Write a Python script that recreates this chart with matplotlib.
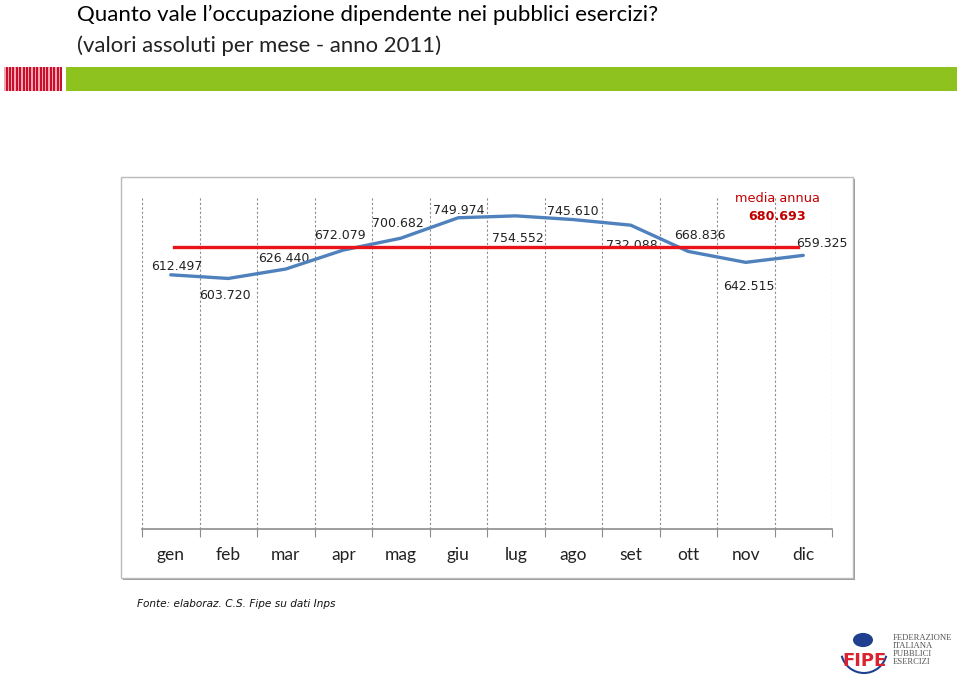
import numpy as np
import matplotlib
matplotlib.use('Agg')
import matplotlib.pyplot as plt
from matplotlib.patches import Rectangle, Circle, Arc

# dati (occupati dipendenti per mese, 2011)
mesi = ['gen', 'feb', 'mar', 'apr', 'mag', 'giu', 'lug', 'ago', 'set', 'ott', 'nov', 'dic']
occupati = [612497, 603720, 626440, 672079, 700682, 749974,
            754552, 745610, 732088, 668836, 642515, 659325]

# spostamento etichette rispetto al punto (pixel)
offs_etichette = [(6, 8), (-3, -17), (-2, 11), (-3, 15), (-3, 15), (0, 7),
                  (2, -23), (0, 8), (1, -20), (12, 16), (3, -24), (19, 12)]

media = np.mean(occupati)


def fmt(v):
    return '{:,}'.format(int(round(v))).replace(',', '.')


fig = plt.figure(figsize=(9.6, 6.81), dpi=100)
W, H = 960, 681


def fx(px):
    return px / W


def fy(py):
    return 1 - py / H


# titolo
fig.text(fx(77), fy(15), 'Quanto vale l\u2019occupazione dipendente nei pubblici esercizi?',
         fontsize=16, family='Lato', va='center', ha='left', color='black')
fig.text(fx(77), fy(46), '(valori assoluti per mese - anno 2011)',
         fontsize=15.9, family='Lato', va='center', ha='left', color='#222222')

# barra header
fig.patches.append(Rectangle((fx(66), fy(91)), fx(957 - 66), (91 - 67) / H,
                             transform=fig.transFigure, color='#8DC21F', lw=0))
fig.patches.append(Rectangle((fx(4), fy(91)), fx(57), (91 - 67) / H,
                             transform=fig.transFigure, color='#F7A5AE', lw=0))
for xx in np.arange(5.5, 61, 3.4):
    fig.patches.append(Rectangle((fx(xx), fy(91)), fx(2.0), (91 - 67) / H,
                                 transform=fig.transFigure, color='#C8102E', lw=0))

# cornice grafico
fig.patches.append(Rectangle((fx(123), fy(580)), fx(732), (580 - 179) / H,
                             transform=fig.transFigure, facecolor='#9a9a9a', edgecolor='none', zorder=-2))
fig.patches.append(Rectangle((fx(121), fy(578)), fx(732), (578 - 177) / H,
                             transform=fig.transFigure, facecolor='white', edgecolor='#bbbbbb', lw=1, zorder=-1))

ax = fig.add_axes([fx(142), fy(529), fx(832 - 142), (529 - 197) / H], zorder=2)
ax.set_facecolor('none')
x = np.arange(len(mesi))

for b in np.arange(-0.5, len(mesi), 1):
    ax.plot([b, b], [0, 800000], color='#8c8c8c', lw=0.8, ls=(0, (2, 2)), zorder=1)

ax.plot(x, occupati, color='#4F81BD', lw=2.4, zorder=3, solid_capstyle='round')
ax.plot([x[0] + 0.05, x[-1] - 0.1], [media, media], color='#E8141A', lw=2.4, zorder=4)

for xi, v, off in zip(x, occupati, offs_etichette):
    ax.annotate(fmt(v), (xi, v), xytext=off, textcoords='offset pixels',
                ha='center', va='center', fontsize=9, color='#222222', zorder=2)

ax.text(10.55, 797000, 'media annua', ha='center', va='center', fontsize=9.3,
        color='#C00000')
ax.text(10.55, 754000, fmt(media), ha='center', va='center', fontsize=9.2,
        color='#C00000', fontweight='bold')

ax.set_xlim(-0.5, len(mesi) - 0.5)
ax.set_ylim(0, 800000)
ax.set_yticks([])
for s in ['left', 'right', 'top']:
    ax.spines[s].set_visible(False)
ax.spines['bottom'].set_color('#8c8c8c')
ax.spines['bottom'].set_linewidth(1.2)
ax.set_xticks(np.arange(-0.5, len(mesi), 1), minor=False)
ax.set_xticklabels([])
ax.tick_params(axis='x', which='major', length=6, color='#8c8c8c')
ax.set_xticks(x, minor=True)
ax.set_xticklabels(mesi, minor=True, fontsize=12.5, family='Lato', color='#222222')
ax.tick_params(axis='x', which='minor', length=0, pad=13)

fig.text(fx(137), fy(604), 'Fonte: elaboraz. C.S. Fipe su dati Inps', fontsize=7.6,
         style='italic', va='center', ha='left', color='#111111')

# logo FIPE (semplificato)
fig.add_artist(Arc((fx(864), fy(650)), 46 / W, 46 / H, theta1=200, theta2=340,
                   transform=fig.transFigure, color='#1F3F8F', lw=1.5))
fig.patches.append(Circle((fx(863), fy(640)), 10 / W, transform=fig.transFigure,
                          facecolor='#1F3F8F', edgecolor='none'))
fig.text(fx(864), fy(661), 'FIPE', fontsize=13, fontweight='bold', color='#D9232E',
         ha='center', va='center')
fig.text(fx(893), fy(650), 'FEDERAZIONE\nITALIANA\nPUBBLICI\nESERCIZI', fontsize=6.2,
         family='Liberation Serif', color='#555555', ha='left', va='center', linespacing=1.0)

fig.savefig('out.png', dpi=100)
